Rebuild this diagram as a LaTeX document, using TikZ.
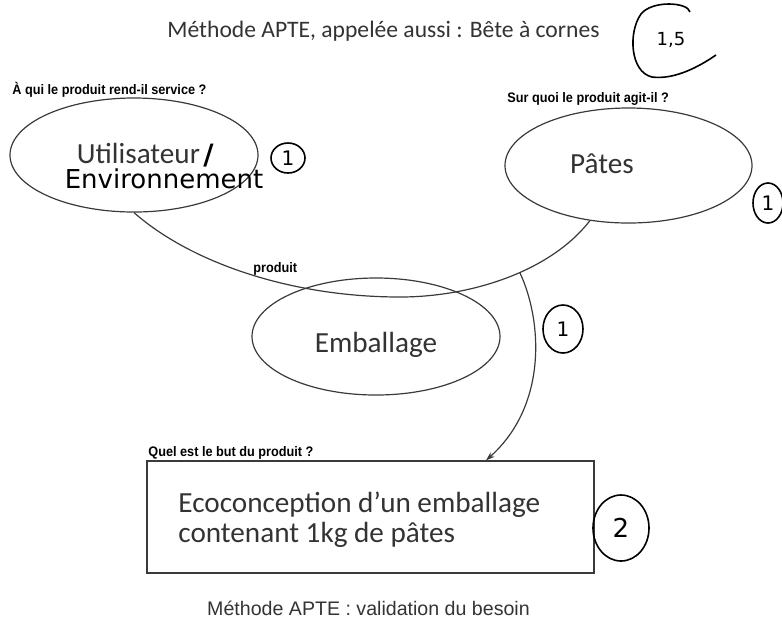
\documentclass[tikz,border=0pt]{standalone}
\usepackage{fontspec}
\setmainfont{Carlito}
\newfontfamily\arialfont{Liberation Sans}
\newfontfamily\qfont[FakeStretch=0.92]{Liberation Sans}
\newfontfamily\handfont{DejaVu Sans}
\usetikzlibrary{shapes.geometric,arrows.meta}
\definecolor{ink}{HTML}{3A3A3A}
\definecolor{txt}{HTML}{333333}
\begin{document}
\begin{tikzpicture}[x=0.5pt,y=-0.5pt,
  lnk/.style={draw=ink,line width=0.6pt},
  oval/.style={ellipse,draw=ink,line width=0.6pt,inner sep=0pt},
  big/.style={font=\fontsize{14.6}{17}\selectfont,text=txt,inner sep=0pt},
  quest/.style={font=\qfont\bfseries\fontsize{6.9}{8}\selectfont,inner sep=0pt,anchor=base west},
  grade/.style={ellipse,draw=black,line width=0.8pt,inner sep=0pt,font=\handfont\fontsize{9}{10}\selectfont}]
\useasboundingbox (0,0) rectangle (782,629);

% title
\node[anchor=base west,inner sep=0pt,font=\fontsize{11.8}{14}\selectfont,text=txt] (title) at (167,37) {Méthode APTE, appelée aussi : Bête à cornes};
\draw[black,line width=0.8pt] (690,12) .. controls (688,2) and (652,0) .. (641,14) .. controls (628,32) and (630,72) .. (652,77) .. controls (675,80) and (700,66) .. (716,55);
\node[inner sep=0pt,font=\handfont\fontsize{9}{10}\selectfont] (g0) at (671,40) {1,5};

% questions
\node[quest] (q1) at (12,94) {À qui le produit rend-il service ?};
\node[quest] (q2) at (507,102) {Sur quoi le produit agit-il ?};
\node[quest] (q3) at (148,456) {Quel est le but du produit ?};

% ellipses
\node[oval,minimum width=124pt,minimum height=57pt] (util) at (134,155) {};
\node[big,anchor=base] (utiltxt) at (138.5,163) {Utilisateur};
\node[anchor=base west,inner sep=0pt,font=\handfont\bfseries\fontsize{14}{16}\selectfont] (slash) at (203,164) {/};
\node[anchor=base,inner sep=0pt,font=\handfont\fontsize{13}{14}\selectfont] (envtxt) at (164,188) {Environnement};

\node[oval,minimum width=123.5pt,minimum height=57.5pt] (pates) at (628.5,165.5) {};
\node[big,anchor=base] (patestxt) at (602,173) {Pâtes};

\node[oval,minimum width=124pt,minimum height=58.5pt] (emb) at (376,336.5) {};
\node[big,anchor=base] (embtxt) at (376,352) {Emballage};

% horns curve
\coordinate (mid) at (400,297);
\coordinate (branch) at (520,273);
\draw[lnk] (util.south) .. controls (190,262) and (290,297) .. (mid) .. controls (470,297) and (550,272) .. (pates.235);
\node[quest] (prod) at (253,272) {produit};

% goal box
\node[draw=ink,line width=0.6pt,minimum width=223.5pt,minimum height=56pt,inner sep=0pt] (box) at (370.5,517) {};
\node[big,anchor=base west,align=left,font=\fontsize{14.6}{15}\selectfont] (boxtxt) at (178,542) {Ecoconception d’un emballage\\contenant 1kg de pâtes};

\coordinate (tipx) at (486,0);
\draw[lnk,-{Stealth[length=4.5pt,width=3pt]}] (branch) .. controls (542,320) and (548,405) .. (box.north -| tipx);

% footer
\node[anchor=base,inner sep=0pt,font=\arialfont\fontsize{9.8}{12}\selectfont,text=txt] (foot) at (368.5,615) {Méthode APTE : validation du besoin};

% handwritten grades
\node[grade,minimum width=17pt,minimum height=15pt,font=\handfont\fontsize{10}{11}\selectfont] (g1) at (288,158) {1};
\node[grade,minimum width=15pt,minimum height=20pt,font=\handfont\fontsize{10}{11}\selectfont] (g2) at (768,203) {1};
\node[grade,minimum width=20pt,minimum height=24pt,font=\handfont\fontsize{10}{11}\selectfont] (g3) at (563,329) {1};
\node[grade,minimum width=28pt,minimum height=33pt,font=\handfont\fontsize{13}{14}\selectfont] (g4) at (621,528) {2};
\end{tikzpicture}
\end{document}
